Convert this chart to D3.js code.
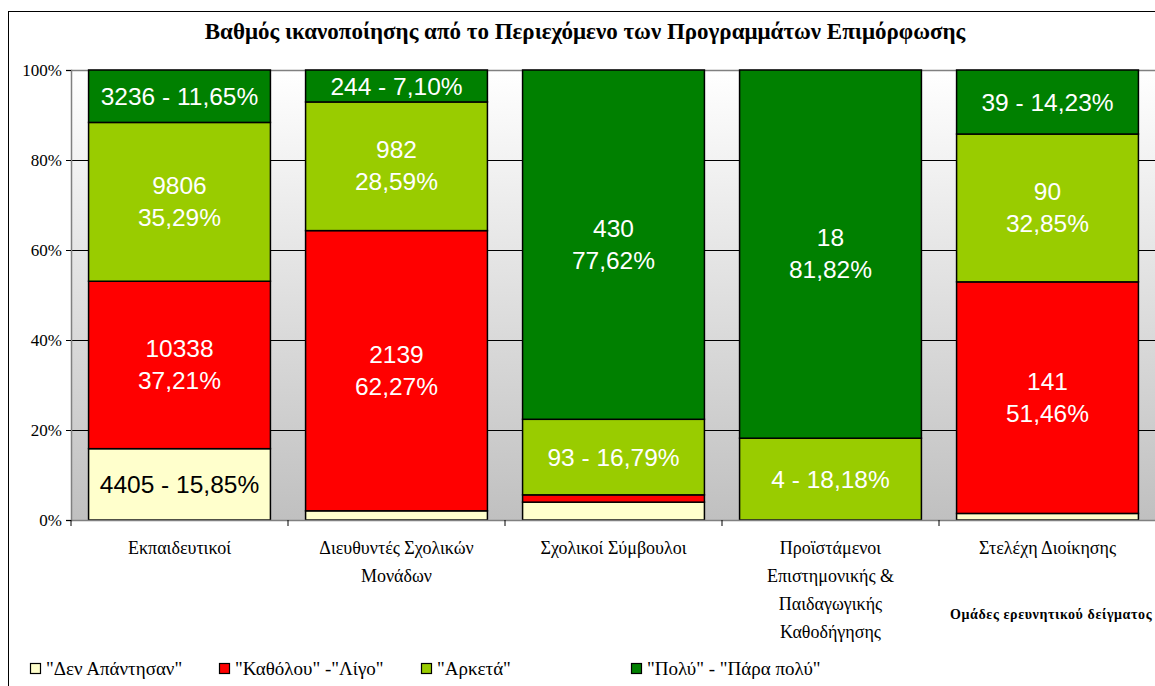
<!DOCTYPE html>
<html>
<head>
<meta charset="utf-8">
<script src="https://cdn.jsdelivr.net/npm/d3@7"></script>
<style>
  body { margin: 0; background: #fff; }
  svg { display: block; }
</style>
</head>
<body>
<svg id="chart" width="1155" height="686"></svg>
<script>
// categories (x labels split per line)
const categories = [
  ["Εκπαιδευτικοί"],
  ["Διευθυντές Σχολικών", "Μονάδων"],
  ["Σχολικοί Σύμβουλοι"],
  ["Προϊστάμενοι", "Επιστημονικής &", "Παιδαγωγικής", "Καθοδήγησης"],
  ["Στελέχη Διοίκησης"]
]
const seriesNames = ["\"Δεν Απάντησαν\"", "\"Καθόλου\" -\"Λίγο\"", "\"Αρκετά\"", "\"Πολύ\" - \"Πάρα πολύ\""]
const seriesColors = ["#ffffcc", "#ff0000", "#99cc00", "#008000"]
// counts per category, one array per series
const noAnswer = [4405, 70, 22, 0, 4]
const littleNone = [10338, 2139, 9, 0, 141]
const enough = [9806, 982, 93, 4, 90]
const much = [3236, 244, 430, 18, 39]
// percentages as printed on the chart
const noAnswerPct = [15.85, 2.04, 3.97, 0, 1.46]
const littleNonePct = [37.21, 62.27, 1.62, 0, 51.46]
const enoughPct = [35.29, 28.59, 16.79, 18.18, 32.85]
const muchPct = [11.65, 7.10, 77.62, 81.82, 14.23]
const yTicks = [0, 20, 40, 60, 80, 100]

const counts = [noAnswer, littleNone, enough, much]
const pcts = [noAnswerPct, littleNonePct, enoughPct, muchPct]

const SERIF = "Liberation Serif, Times New Roman, serif"
const SANS = "Liberation Sans, Arial, sans-serif"

const svg = d3.select("#chart")
const plot = {left: 71, right: 1156, top: 70, bottom: 520}

// outer chart border (cropped on the right like the original)
svg.append("rect").attr("x", 8.5).attr("y", 11.5).attr("width", 1200).attr("height", 720)
  .attr("fill", "#fff").attr("stroke", "#000").attr("stroke-width", 1)

svg.append("text").attr("x", 585).attr("y", 39).attr("text-anchor", "middle")
  .attr("font-family", SERIF).attr("font-weight", "bold")
  .attr("font-size", 23).text("Βαθμός ικανοποίησης από το Περιεχόμενο των Προγραμμάτων Επιμόρφωσης")

// plot background gradient
let grad = svg.append("defs").append("linearGradient").attr("id", "bg")
  .attr("x1", 0).attr("y1", 0).attr("x2", 0).attr("y2", 1)
grad.append("stop").attr("offset", "0%").attr("stop-color", "#ffffff")
grad.append("stop").attr("offset", "100%").attr("stop-color", "#c0c0c0")
svg.append("rect").attr("x", plot.left).attr("y", plot.top)
  .attr("width", plot.right - plot.left).attr("height", plot.bottom - plot.top)
  .attr("fill", "url(#bg)")

let x = d3.scaleBand().domain(d3.range(categories.length)).range([plot.left, plot.right])
  .paddingInner(0.162).paddingOuter(0.081)
let y = d3.scaleLinear().domain([0, 100]).range([plot.bottom, plot.top])

// gridlines
svg.append("g").selectAll("line").data(yTicks.filter(t => t > 0 && t < 100)).enter().append("line")
  .attr("x1", plot.left).attr("x2", plot.right)
  .attr("y1", d => y(d) + 0.5).attr("y2", d => y(d) + 0.5)
  .attr("stroke", "#000").attr("stroke-width", 1)
svg.append("line").attr("x1", plot.left).attr("x2", plot.right)
  .attr("y1", plot.top + 0.5).attr("y2", plot.top + 0.5).attr("stroke", "#808080").attr("stroke-width", 1.5)

// y axis
let yAxis = d3.axisLeft(y).tickValues(yTicks).tickSize(5).tickFormat(d => d + "%")
let gy = svg.append("g").attr("transform", `translate(${plot.left},0)`).call(yAxis)
gy.select(".domain").attr("stroke", "#808080").attr("stroke-width", 1.5)
gy.selectAll(".tick line").attr("stroke", "#000")
gy.selectAll(".tick text").attr("font-family", SERIF)
  .attr("font-size", 17).attr("fill", "#000").attr("x", -9)

// stacked data
let rows = categories.map((c, i) => {
  let r = {i}
  counts.forEach((s, k) => { r["s" + k] = pcts[k][i] })
  return r
})
let stack = d3.stack().keys(counts.map((s, k) => "s" + k))
let layers = stack(rows)

let fmt = v => v.toFixed(2).replace(".", ",") + "%"

layers.forEach((layer, k) => {
  let g = svg.append("g")
  g.selectAll("rect").data(layer).enter().filter(d => d[1] - d[0] > 0).append("rect")
    .attr("x", d => x(d.data.i))
    .attr("width", x.bandwidth())
    .attr("y", d => y(d[1]))
    .attr("height", d => y(d[0]) - y(d[1]))
    .attr("fill", seriesColors[k])
    .attr("stroke", "#000").attr("stroke-width", 1.5)

  layer.forEach(d => {
    let pct = d[1] - d[0]
    if (pct < 5) return
    let i = d.data.i
    let cx = x(i) + x.bandwidth() / 2
    let cy = (y(d[0]) + y(d[1])) / 2
    let t = g.append("text").attr("x", cx).attr("text-anchor", "middle")
      .attr("font-family", SANS).attr("font-size", 24.5)
      .attr("fill", k === 0 ? "#000" : "#fff")
    if (pct < 20) {
      t.attr("y", cy + 9).text(counts[k][i] + " - " + fmt(pcts[k][i]))
    } else {
      t.append("tspan").attr("x", cx).attr("y", cy - 8).text(counts[k][i])
      t.append("tspan").attr("x", cx).attr("y", cy + 24).text(fmt(pcts[k][i]))
    }
  })
})

// x axis
svg.append("line").attr("x1", plot.left).attr("x2", plot.right)
  .attr("y1", plot.bottom + 0.5).attr("y2", plot.bottom + 0.5).attr("stroke", "#808080").attr("stroke-width", 1.5)
svg.append("g").selectAll("line").data(d3.range(categories.length + 1)).enter().append("line")
  .attr("x1", i => plot.left + i * x.step()).attr("x2", i => plot.left + i * x.step())
  .attr("y1", plot.bottom).attr("y2", plot.bottom + 6).attr("stroke", "#000")

svg.append("g").selectAll("text").data(categories).enter().append("text")
  .attr("text-anchor", "middle")
  .attr("font-family", SERIF).attr("font-size", 18)
  .each(function(lines, i) {
    let cx = x(i) + x.bandwidth() / 2
    lines.forEach((l, j) => {
      d3.select(this).append("tspan").attr("x", cx).attr("y", 554 + j * 28).text(l)
    })
  })

svg.append("text").attr("x", 950).attr("y", 619)
  .attr("font-family", SERIF).attr("font-weight", "bold")
  .attr("font-size", 14).attr("letter-spacing", 0.6).text("Ομάδες ερευνητικού δείγματος")

// legend
const legendX = [30, 219, 421, 631]
let lg = svg.append("g").selectAll("g").data(seriesNames).enter().append("g")
  .attr("transform", (d, i) => `translate(${legendX[i]},663)`)
lg.append("rect").attr("x", 0.5).attr("y", 0.5).attr("width", 10).attr("height", 10)
  .attr("fill", (d, i) => seriesColors[i]).attr("stroke", "#000").attr("stroke-width", 1.2)
lg.append("text").attr("x", 16).attr("y", 12)
  .attr("font-family", SERIF).attr("font-size", 19)
  .text(d => d)
</script>
</body>
</html>
